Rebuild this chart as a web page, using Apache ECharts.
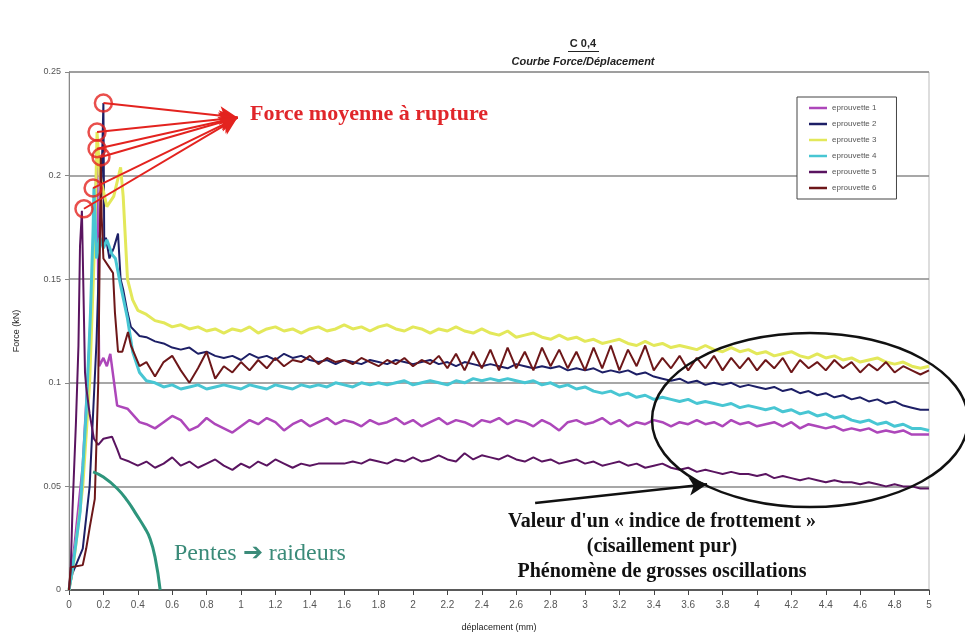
<!DOCTYPE html>
<html>
<head>
<meta charset="utf-8">
<title>C 0,4 - Courbe Force/Déplacement</title>
<script src="https://cdn.jsdelivr.net/npm/echarts@6/dist/echarts.min.js"></script>
<style>
  html, body { margin: 0; padding: 0; background: #fff; }
  #chart { width: 965px; height: 637px; }
</style>
</head>
<body>
<div id="chart"></div>
<script>
  // déplacement (mm) for the stabilised part of every curve
  var xTail = [
    0.45, 0.5, 0.55, 0.6, 0.65, 0.7, 0.75, 0.8, 0.85, 0.9,
    0.95, 1, 1.05, 1.1, 1.15, 1.2, 1.25, 1.3, 1.35, 1.4,
    1.45, 1.5, 1.55, 1.6, 1.65, 1.7, 1.75, 1.8, 1.85, 1.9,
    1.95, 2, 2.05, 2.1, 2.15, 2.2, 2.25, 2.3, 2.35, 2.4,
    2.45, 2.5, 2.55, 2.6, 2.65, 2.7, 2.75, 2.8, 2.85, 2.9,
    2.95, 3, 3.05, 3.1, 3.15, 3.2, 3.25, 3.3, 3.35, 3.4,
    3.45, 3.5, 3.55, 3.6, 3.65, 3.7, 3.75, 3.8, 3.85, 3.9,
    3.95, 4, 4.05, 4.1, 4.15, 4.2, 4.25, 4.3, 4.35, 4.4,
    4.45, 4.5, 4.55, 4.6, 4.65, 4.7, 4.75, 4.8, 4.85, 4.9,
    4.95, 5
  ];

  // rising part + rupture peak, [déplacement, force]
  var head1 = [[0, 0], [0.03, 0.02], [0.08, 0.06], [0.12, 0.12], [0.15, 0.18], [0.163, 0.213], [0.17, 0.15],
    [0.175, 0.108], [0.2, 0.112], [0.22, 0.108], [0.24, 0.114], [0.28, 0.089], [0.34, 0.0875], [0.41, 0.081]];
  var head2 = [[0, 0], [0.02, 0.008], [0.08, 0.02], [0.12, 0.05], [0.16, 0.12], [0.19, 0.2], [0.2, 0.235],
    [0.205, 0.166], [0.215, 0.17], [0.235, 0.16], [0.26, 0.165], [0.285, 0.172], [0.3, 0.15], [0.315, 0.145],
    [0.34, 0.134], [0.36, 0.127], [0.41, 0.1226]];
  var head3 = [[0, 0], [0.03, 0.015], [0.08, 0.05], [0.12, 0.1], [0.15, 0.17], [0.163, 0.221], [0.18, 0.2],
    [0.22, 0.185], [0.26, 0.19], [0.3, 0.204], [0.315, 0.19], [0.34, 0.15], [0.37, 0.14], [0.4, 0.135]];
  var head4 = [[0, 0], [0.02, 0.01], [0.065, 0.038], [0.1, 0.086], [0.125, 0.134], [0.14, 0.174], [0.145, 0.194],
    [0.16, 0.16], [0.18, 0.17], [0.2, 0.165], [0.22, 0.169], [0.25, 0.162], [0.27, 0.16], [0.3, 0.147],
    [0.34, 0.131], [0.37, 0.115], [0.41, 0.105]];
  var head5 = [[0, 0], [0.01, 0.01], [0.02, 0.038], [0.04, 0.08], [0.055, 0.118], [0.064, 0.166], [0.075, 0.183],
    [0.085, 0.14], [0.093, 0.105], [0.1, 0.098], [0.12, 0.085], [0.145, 0.073], [0.17, 0.07], [0.2, 0.073],
    [0.25, 0.074], [0.28, 0.068], [0.3, 0.0635], [0.35, 0.062], [0.4, 0.06]];
  var head6 = [[0, 0], [0.01, 0.011], [0.08, 0.012], [0.1, 0.02], [0.12, 0.03], [0.15, 0.044], [0.17, 0.1],
    [0.185, 0.209], [0.19, 0.18], [0.2, 0.16], [0.24, 0.155], [0.256, 0.153], [0.267, 0.134], [0.285, 0.115],
    [0.31, 0.115], [0.343, 0.1245], [0.36, 0.118], [0.41, 0.108]];

  // force (kN) on xTail
  var tail1 = [
    0.080, 0.078, 0.081, 0.084, 0.082, 0.077, 0.079, 0.083, 0.080, 0.078,
    0.076, 0.079, 0.082, 0.080, 0.083, 0.081, 0.077, 0.080, 0.082, 0.079,
    0.081, 0.083, 0.080, 0.082, 0.081, 0.079, 0.082, 0.080, 0.081, 0.083,
    0.080, 0.082, 0.079, 0.081, 0.083, 0.080, 0.082, 0.081, 0.079, 0.082,
    0.081, 0.083, 0.080, 0.082, 0.081, 0.079, 0.082, 0.080, 0.077, 0.081,
    0.082, 0.080, 0.081, 0.083, 0.080, 0.082, 0.079, 0.081, 0.080, 0.082,
    0.081, 0.079, 0.081, 0.080, 0.082, 0.080, 0.081, 0.079, 0.082, 0.080,
    0.081, 0.079, 0.080, 0.081, 0.079, 0.081, 0.078, 0.080, 0.079, 0.078,
    0.079, 0.077, 0.078, 0.077, 0.078, 0.076, 0.077, 0.076, 0.077, 0.075,
    0.075, 0.075
  ];
  var tail2 = [
    0.122, 0.120, 0.119, 0.117, 0.116, 0.117, 0.114, 0.115, 0.113, 0.112,
    0.113, 0.111, 0.114, 0.112, 0.113, 0.111, 0.114, 0.112, 0.113, 0.111,
    0.110, 0.111, 0.109, 0.111, 0.110, 0.109, 0.111, 0.110, 0.109, 0.111,
    0.110, 0.109, 0.110, 0.111, 0.109, 0.110, 0.108, 0.110, 0.109, 0.108,
    0.109, 0.108, 0.107, 0.109, 0.108, 0.107, 0.108, 0.107, 0.108, 0.106,
    0.107, 0.106, 0.107, 0.105, 0.106, 0.105, 0.106, 0.104, 0.105, 0.103,
    0.102, 0.101, 0.102, 0.100, 0.101, 0.099, 0.100, 0.099, 0.100, 0.098,
    0.099, 0.098, 0.097, 0.098, 0.096, 0.097, 0.095, 0.096, 0.094, 0.095,
    0.093, 0.094, 0.092, 0.093, 0.091, 0.092, 0.090, 0.091, 0.089, 0.088,
    0.087, 0.087
  ];
  var tail3 = [
    0.133, 0.130, 0.129, 0.127, 0.128, 0.126, 0.127, 0.125, 0.126, 0.124,
    0.126, 0.125, 0.127, 0.124, 0.126, 0.127, 0.125, 0.126, 0.124, 0.126,
    0.127, 0.125, 0.126, 0.128, 0.126, 0.127, 0.125, 0.127, 0.128, 0.126,
    0.125, 0.127, 0.126, 0.124, 0.126, 0.125, 0.127, 0.125, 0.124, 0.126,
    0.124, 0.123, 0.125, 0.122, 0.123, 0.124, 0.122, 0.121, 0.123, 0.121,
    0.122, 0.120, 0.121, 0.119, 0.120, 0.121, 0.119, 0.118, 0.120, 0.118,
    0.119, 0.117, 0.118, 0.117, 0.116, 0.118, 0.116, 0.115, 0.117, 0.115,
    0.116, 0.114, 0.115, 0.113, 0.114, 0.115, 0.113, 0.112, 0.114, 0.112,
    0.113, 0.111, 0.112, 0.110, 0.111, 0.112, 0.110, 0.109, 0.110, 0.108,
    0.107, 0.108
  ];
  var tail4 = [
    0.101, 0.100, 0.098, 0.099, 0.097, 0.098, 0.099, 0.097, 0.098, 0.099,
    0.098, 0.097, 0.099, 0.098, 0.097, 0.099, 0.098, 0.097, 0.099, 0.098,
    0.099, 0.098, 0.100, 0.099, 0.098, 0.100, 0.099, 0.100, 0.099, 0.100,
    0.101, 0.099, 0.100, 0.101, 0.100, 0.099, 0.101, 0.100, 0.102, 0.101,
    0.102, 0.101, 0.102, 0.101, 0.100, 0.101, 0.099, 0.100, 0.098, 0.099,
    0.097, 0.098, 0.096, 0.095, 0.096, 0.094, 0.095, 0.093, 0.094, 0.092,
    0.093, 0.092, 0.091, 0.092, 0.090, 0.091, 0.090, 0.089, 0.090, 0.088,
    0.089, 0.088, 0.087, 0.088, 0.086, 0.087, 0.085, 0.086, 0.084, 0.085,
    0.083, 0.084, 0.082, 0.081, 0.082, 0.080, 0.081, 0.079, 0.080, 0.078,
    0.078, 0.077
  ];
  var tail5 = [
    0.062, 0.059, 0.061, 0.064, 0.060, 0.062, 0.059, 0.061, 0.063, 0.060,
    0.058, 0.061, 0.059, 0.062, 0.060, 0.063, 0.061, 0.059, 0.061, 0.060,
    0.061, 0.061, 0.061, 0.061, 0.062, 0.061, 0.063, 0.062, 0.061, 0.063,
    0.062, 0.064, 0.062, 0.063, 0.065, 0.063, 0.062, 0.066, 0.063, 0.065,
    0.064, 0.063, 0.065, 0.063, 0.062, 0.064, 0.062, 0.063, 0.061, 0.062,
    0.063, 0.061, 0.062, 0.060, 0.061, 0.062, 0.060, 0.061, 0.059, 0.060,
    0.061, 0.059, 0.058, 0.059, 0.057, 0.058, 0.057, 0.056, 0.057, 0.056,
    0.056, 0.055, 0.056, 0.054, 0.055, 0.054, 0.053, 0.054, 0.053, 0.052,
    0.053, 0.052, 0.052, 0.051, 0.052, 0.051, 0.050, 0.051, 0.050, 0.050,
    0.049, 0.049
  ];
  var tail6 = [
    0.110, 0.103, 0.110, 0.113, 0.106, 0.100, 0.107, 0.115, 0.102, 0.108,
    0.105, 0.110, 0.106, 0.111, 0.107, 0.112, 0.108, 0.111, 0.110, 0.113,
    0.109, 0.112, 0.110, 0.111, 0.109, 0.112, 0.110, 0.108, 0.111, 0.109,
    0.112, 0.108, 0.111, 0.109, 0.113, 0.107, 0.114, 0.106, 0.115, 0.107,
    0.116, 0.106, 0.117, 0.107, 0.115, 0.106, 0.117, 0.108, 0.116, 0.107,
    0.115, 0.106, 0.117, 0.107, 0.118, 0.106, 0.116, 0.108, 0.118, 0.106,
    0.112, 0.107, 0.113, 0.106, 0.112, 0.107, 0.113, 0.106, 0.112, 0.107,
    0.112, 0.106, 0.111, 0.107, 0.112, 0.105, 0.111, 0.107, 0.110, 0.106,
    0.111, 0.107, 0.110, 0.105, 0.109, 0.106, 0.110, 0.105, 0.108, 0.106,
    0.104, 0.106
  ];

  var seriesNames = ['eprouvette 1', 'eprouvette 2', 'eprouvette 3', 'eprouvette 4', 'eprouvette 5', 'eprouvette 6'];
  var seriesColors = ['#ad47ba', '#1d1f66', '#e3e85a', '#48c6d3', '#5a1460', '#6d1719'];
  var seriesWidths = [2.5, 2, 3, 3, 2, 2];

  // circled rupture points and where the red arrows meet
  var rupturePeaks = [[0.2, 0.235], [0.163, 0.221], [0.163, 0.213], [0.186, 0.209], [0.14, 0.194], [0.087, 0.184]];
  var arrowTarget = [0.98, 0.228];
  // friction arrow (black)
  var frictionArrow = [[2.71, 0.042], [3.71, 0.051]];
  // green "Pentes -> raideurs" curve
  var slopeCurve = [[0.14, 0.057], [0.2, 0.0545], [0.28, 0.049], [0.34, 0.043], [0.395, 0.036],
    [0.44, 0.03], [0.47, 0.025], [0.5, 0.016], [0.53, 0]];

  var heads = [head1, head2, head3, head4, head5, head6];
  var tails = [tail1, tail2, tail3, tail4, tail5, tail6];

  function buildCurve(head, tail) {
    var pts = head.slice();
    for (var i = 0; i < tail.length; i++) {
      pts.push([xTail[i], tail[i]]);
    }
    return pts;
  }

  var chart = echarts.init(document.getElementById('chart'));

  var series = [];
  for (var s = 0; s < seriesNames.length; s++) {
    series.push({
      name: seriesNames[s],
      type: 'line',
      symbol: 'none',
      data: buildCurve(heads[s], tails[s]),
      lineStyle: { color: seriesColors[s], width: seriesWidths[s] },
      itemStyle: { color: seriesColors[s] },
      z: 3
    });
  }

  series.push({
    name: 'pentes',
    type: 'line',
    symbol: 'none',
    smooth: true,
    data: slopeCurve,
    lineStyle: { color: '#2e957c', width: 3 },
    z: 4
  });

  var arrowLines = rupturePeaks.map(function (p) {
    return [{ coord: p }, { coord: arrowTarget }];
  });
  arrowLines.push([
    { coord: frictionArrow[0], lineStyle: { color: '#111', width: 2.5 }, symbolSize: [10, 14] },
    { coord: frictionArrow[1] }
  ]);

  series.push({
    name: 'ruptures',
    type: 'scatter',
    data: rupturePeaks,
    symbol: 'circle',
    symbolSize: 17,
    itemStyle: { color: 'rgba(0,0,0,0)', borderColor: '#e3231f', borderWidth: 2.5 },
    z: 6,
    silent: true,
    markLine: {
      silent: true,
      animation: false,
      symbol: ['none', 'arrow'],
      symbolSize: [14, 18],
      label: { show: false },
      lineStyle: { color: '#e3231f', width: 2, type: 'solid' },
      data: arrowLines
    }
  });

  chart.setOption({
    backgroundColor: '#fff',
    animation: false,
    title: [{
      text: 'C 0,4',
      left: 583,
      top: 38,
      padding: 0,
      textAlign: 'center',
      textStyle: { fontFamily: 'Liberation Sans, Arial, sans-serif', fontSize: 11, fontWeight: 'bold', color: '#222' }
    }, {
      text: 'Courbe Force/Déplacement',
      left: 583,
      top: 56,
      padding: 0,
      textAlign: 'center',
      textStyle: { fontFamily: 'Liberation Sans, Arial, sans-serif', fontSize: 11, fontWeight: 'bold', fontStyle: 'italic', color: '#222' }
    }],
    legend: {
      data: seriesNames,
      orient: 'vertical',
      left: 797,
      top: 97,
      icon: 'rect',
      itemWidth: 18,
      itemHeight: 2.5,
      itemGap: 6,
      padding: [6, 20, 6, 12],
      backgroundColor: '#fff',
      borderColor: '#444',
      borderWidth: 1,
      borderRadius: 0,
      textStyle: { fontFamily: 'Liberation Sans, Arial, sans-serif', fontSize: 8, color: '#555', lineHeight: 10 }
    },
    grid: {
      left: 69,
      right: 36,
      top: 72,
      bottom: 45,
      show: true,
      borderColor: '#bbb',
      borderWidth: 1
    },
    xAxis: {
      type: 'value',
      min: 0,
      max: 5,
      interval: 0.2,
      name: 'déplacement (mm)',
      nameLocation: 'middle',
      nameGap: 33,
      nameTextStyle: { fontFamily: 'Liberation Sans, Arial, sans-serif', fontSize: 9, color: '#222' },
      axisLine: { lineStyle: { color: '#444', width: 1.5 } },
      axisTick: { show: true, length: 5, lineStyle: { color: '#444' } },
      axisLabel: { fontFamily: 'Liberation Sans, Arial, sans-serif', fontSize: 10, color: '#555', margin: 10 },
      splitLine: { show: false }
    },
    yAxis: {
      type: 'value',
      min: 0,
      max: 0.25,
      interval: 0.05,
      name: 'Force (kN)',
      nameLocation: 'middle',
      nameGap: 48,
      nameRotate: 90,
      nameTextStyle: { fontFamily: 'Liberation Sans, Arial, sans-serif', fontSize: 9, color: '#222' },
      axisLine: { show: true, lineStyle: { color: '#888', width: 1 } },
      axisTick: { show: true, length: 4, lineStyle: { color: '#888' } },
      axisLabel: { fontFamily: 'Liberation Sans, Arial, sans-serif', fontSize: 9, color: '#555', margin: 8 },
      splitLine: { show: true, lineStyle: { color: '#8a8a8a', width: 1.5 } }
    },
    graphic: [
      {
        type: 'line',
        shape: { x1: 568, y1: 51.5, x2: 599, y2: 51.5 },
        style: { stroke: '#222', lineWidth: 1 }
      },
      {
        type: 'text',
        left: 250,
        top: 103,
        z: 10,
        style: {
          text: 'Force moyenne à rupture',
          font: 'bold 22px "Liberation Serif", "DejaVu Serif", serif',
          fill: '#e0262a'
        }
      },
      {
        type: 'text',
        left: 174,
        top: 542,
        z: 10,
        style: {
          text: 'Pentes ➔ raideurs',
          font: '24px "Liberation Serif", "DejaVu Serif", serif',
          fill: '#3b8b79'
        }
      },
      {
        type: 'text',
        x: 662,
        y: 509,
        z: 10,
        style: {
          text: 'Valeur d\'un « indice de frottement »\n(cisaillement pur)\nPhénomène de grosses oscillations',
          font: 'bold 20px "Liberation Serif", "DejaVu Serif", serif',
          fill: '#111',
          align: 'center',
          verticalAlign: 'top',
          lineHeight: 25
        }
      },
      {
        type: 'ellipse',
        z: 10,
        shape: { cx: 810, cy: 420, rx: 158, ry: 87 },
        style: { fill: 'none', stroke: '#111', lineWidth: 2.5 }
      }
    ],
    series: series
  });
</script>
</body>
</html>
